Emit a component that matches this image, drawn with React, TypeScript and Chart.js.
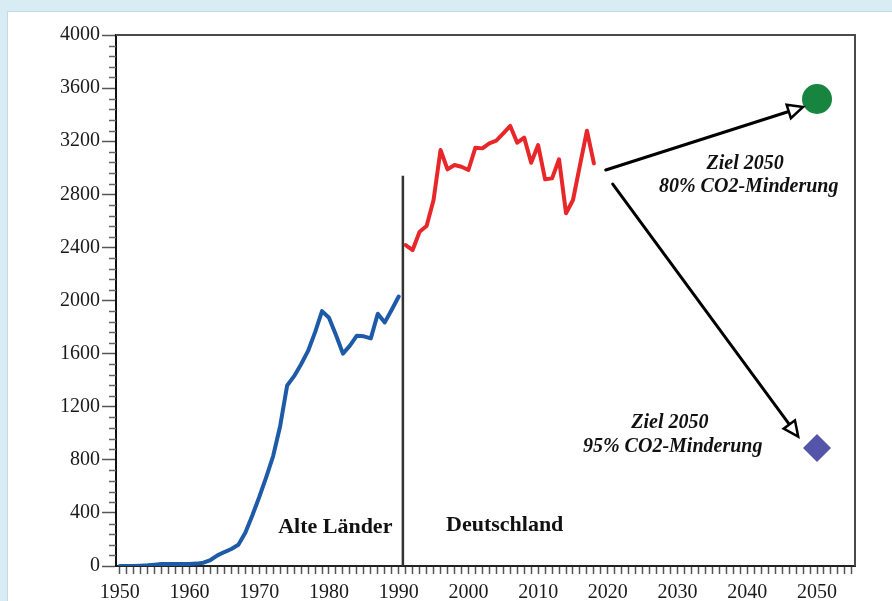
import React, { useEffect, useRef } from "react";
import { Chart, registerables } from "chart.js";

Chart.register(...registerables);

// ---------- data ----------
const oldYears = [
  1950, 1951, 1952, 1953, 1954, 1955, 1956, 1957, 1958, 1959,
  1960, 1961, 1962, 1963, 1964, 1965, 1966, 1967, 1968, 1969,
  1970, 1971, 1972, 1973, 1974, 1975, 1976, 1977, 1978, 1979,
  1980, 1981, 1982, 1983, 1984, 1985, 1986, 1987, 1988, 1989, 1990,
];
const oldValues = [
  0, 0, 0, 2, 5, 10, 15, 15, 15, 15,
  15, 18, 25, 45, 80, 105, 128, 160, 250, 380,
  520, 670, 830, 1055, 1360, 1430, 1520, 1620, 1760, 1920,
  1870, 1740, 1600, 1660, 1735, 1730, 1715, 1900, 1835, 1930, 2030,
];
const deYears = [
  1991, 1992, 1993, 1994, 1995, 1996, 1997, 1998, 1999, 2000,
  2001, 2002, 2003, 2004, 2005, 2006, 2007, 2008, 2009, 2010,
  2011, 2012, 2013, 2014, 2015, 2016, 2017, 2018,
];
const deValues = [
  2418, 2380, 2518, 2561, 2757, 3134, 2988, 3021, 3008, 2983,
  3151, 3146, 3184, 3204, 3259, 3315, 3189, 3227, 3038, 3171,
  2913, 2920, 3064, 2657, 2757, 3020, 3279, 3033,
];
const dividerYear = 1990.6;
const dividerTop = 2940;

const target80 = { x: 2050, y: 3518 };
const target95 = { x: 2050, y: 889 };

const arrows = [
  { from: { x: 2019.7, y: 2983 }, to: { x: 2048.0, y: 3458 } },
  { from: { x: 2020.7, y: 2877 }, to: { x: 2047.3, y: 975 } },
];

const regionLabels = [
  { text: "Alte Länder", x: 1980.9, y: 294 },
  { text: "Deutschland", x: 2005.2, y: 309 },
];
const targetLabels = [
  { text: "Ziel 2050", x: 2039.7, y: 3028 },
  { text: "80% CO2-Minderung", x: 2040.2, y: 2855 },
  { text: "Ziel 2050", x: 2028.9, y: 1077 },
  { text: "95% CO2-Minderung", x: 2029.3, y: 896 },
];

const xMin = 1949.45;
const xMax = 2055.45;
const yMin = 0;
const yMax = 4000;
const yMajorStep = 400;
const yMinorStep = 80;

const SERIF = '"Liberation Serif", "Times New Roman", serif';

const toXY = (xs: number[], ys: number[]) => xs.map((x, i) => ({ x, y: ys[i] }));

const decor = {
  id: "decor",
  afterDatasetsDraw(chart: any) {
    const { ctx, chartArea, scales } = chart;
    const xs = scales.x;
    const ys = scales.y;
    ctx.save();
    // frame top/right
    ctx.strokeStyle = "#4a4a4a";
    ctx.lineWidth = 2;
    ctx.beginPath();
    ctx.moveTo(chartArea.left, chartArea.top);
    ctx.lineTo(chartArea.right, chartArea.top);
    ctx.lineTo(chartArea.right, chartArea.bottom);
    ctx.stroke();

    // minor y ticks
    ctx.strokeStyle = "#666";
    ctx.lineWidth = 1.5;
    for (let v = yMin; v <= yMax; v += yMinorStep) {
      if (v % yMajorStep === 0) continue;
      const py = Math.round(ys.getPixelForValue(v)) + 0.5;
      ctx.beginPath();
      ctx.moveTo(chartArea.left - 7, py);
      ctx.lineTo(chartArea.left, py);
      ctx.stroke();
    }

    // arrows
    for (const a of arrows) {
      const x1 = xs.getPixelForValue(a.from.x);
      const y1 = ys.getPixelForValue(a.from.y);
      const x2 = xs.getPixelForValue(a.to.x);
      const y2 = ys.getPixelForValue(a.to.y);
      const ang = Math.atan2(y2 - y1, x2 - x1);
      const L = 15;
      const W = 7;
      const bx = x2 - L * Math.cos(ang);
      const by = y2 - L * Math.sin(ang);
      ctx.strokeStyle = "#000";
      ctx.lineWidth = 3;
      ctx.lineCap = "round";
      ctx.beginPath();
      ctx.moveTo(x1, y1);
      ctx.lineTo(bx, by);
      ctx.stroke();
      ctx.beginPath();
      ctx.moveTo(x2, y2);
      ctx.lineTo(bx + W * Math.sin(ang), by - W * Math.cos(ang));
      ctx.lineTo(bx - W * Math.sin(ang), by + W * Math.cos(ang));
      ctx.closePath();
      ctx.fillStyle = "#fff";
      ctx.fill();
      ctx.lineWidth = 2.5;
      ctx.lineJoin = "miter";
      ctx.stroke();
    }

    // texts
    ctx.fillStyle = "#111";
    ctx.textAlign = "center";
    ctx.textBaseline = "middle";
    ctx.font = `bold 22px ${SERIF}`;
    for (const t of regionLabels) {
      ctx.fillText(t.text, xs.getPixelForValue(t.x), ys.getPixelForValue(t.y));
    }
    ctx.font = `italic bold 20px ${SERIF}`;
    for (const t of targetLabels) {
      ctx.fillText(t.text, xs.getPixelForValue(t.x), ys.getPixelForValue(t.y));
    }
    ctx.restore();
  },
};

export default function App() {
  const ref = useRef<HTMLCanvasElement>(null);
  useEffect(() => {
    const xTicks: number[] = [];
    for (let v = Math.ceil(xMin); v <= Math.floor(xMax); v++) xTicks.push(v);
    const yTicks: number[] = [];
    for (let v = yMin; v <= yMax; v += yMajorStep) yTicks.push(v);

    const chart = new Chart(ref.current as HTMLCanvasElement, {
      type: "scatter",
      data: {
        datasets: [
          {
            label: "Alte Länder",
            data: toXY(oldYears, oldValues),
            showLine: true,
            borderColor: "#1d5aa8",
            borderWidth: 4,
            pointRadius: 0,
            tension: 0,
            borderJoinStyle: "round",
            borderCapStyle: "round",
          },
          {
            label: "Deutschland",
            data: toXY(deYears, deValues),
            showLine: true,
            borderColor: "#e8272b",
            borderWidth: 4,
            pointRadius: 0,
            tension: 0,
            borderJoinStyle: "round",
            borderCapStyle: "round",
          },
          {
            label: "divider",
            data: [
              { x: dividerYear, y: 0 },
              { x: dividerYear, y: dividerTop },
            ],
            showLine: true,
            borderColor: "#333",
            borderWidth: 2.5,
            pointRadius: 0,
          },
          {
            label: "Ziel 80%",
            data: [target80],
            pointStyle: "circle",
            pointRadius: 15,
            backgroundColor: "#17843f",
            borderWidth: 0,
          },
          {
            label: "Ziel 95%",
            data: [target95],
            pointStyle: "rectRot",
            pointRadius: 14,
            backgroundColor: "#5454a8",
            borderWidth: 0,
          },
        ] as any,
      },
      options: {
        responsive: false,
        animation: false,
        layout: { padding: { left: 0, top: 35, right: 37, bottom: 0 } },
        plugins: { legend: { display: false }, tooltip: { enabled: false } },
        scales: {
          x: {
            type: "linear",
            min: xMin,
            max: xMax,
            afterBuildTicks: (s: any) => {
              s.ticks = xTicks.map((v) => ({ value: v }));
            },
            afterFit: (s: any) => {
              s.height = 35;
            },
            ticks: {
              autoSkip: false,
              maxRotation: 0,
              minRotation: 0,
              padding: 7,
              color: "#1a1a1a",
              font: { family: SERIF, size: 20 },
              callback: (v: any) => (Number(v) % 10 === 0 ? String(v) : ""),
            },
            grid: { drawOnChartArea: false, tickLength: 8, tickColor: "#555", tickWidth: 1.5 },
            border: { color: "#222", width: 2 },
          },
          y: {
            type: "linear",
            min: yMin,
            max: yMax,
            afterBuildTicks: (s: any) => {
              s.ticks = yTicks.map((v) => ({ value: v }));
            },
            afterFit: (s: any) => {
              s.width = 116;
            },
            ticks: {
              padding: 2,
              color: "#1a1a1a",
              font: { family: SERIF, size: 20 },
              callback: (v: any) => String(v),
            },
            grid: { drawOnChartArea: false, tickLength: 14, tickColor: "#555", tickWidth: 1.5 },
            border: { color: "#111", width: 2 },
          },
        },
      } as any,
      plugins: [decor],
    });
    return () => chart.destroy();
  }, []);

  return (
    <div style={{ position: "relative", width: 892, height: 601, background: "#d7ecf3", overflow: "hidden" }}>
      <style>{`body{margin:0}`}</style>
      <div
        style={{
          position: "absolute",
          left: 7,
          top: 11,
          right: -10,
          bottom: -10,
          background: "#fff",
          border: "1px solid #c2dae3",
        }}
      />
      <canvas ref={ref} width={892} height={601} style={{ position: "absolute", left: 0, top: 0 }} />
    </div>
  );
}
